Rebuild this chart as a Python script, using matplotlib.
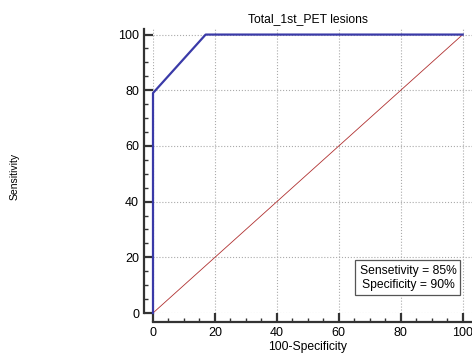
"""ROC curve for Total_1st_PET lesions."""

import matplotlib

matplotlib.use("Agg")
import matplotlib.pyplot as plt
from matplotlib.ticker import MultipleLocator

plt.rcParams["font.family"] = ["Liberation Sans", "DejaVu Sans"]

# ROC points (100-specificity, sensitivity)
FPR = [0, 0, 17, 100]
TPR = [0, 79, 100, 100]
CHANCE_X = [0, 100]
CHANCE_Y = [0, 100]
TITLE = "Total_1st_PET lesions"
SUMMARY = "Sensetivity = 85%\nSpecificity = 90%"

XMAX = 103
fig = plt.figure(figsize=(4.72, 3.56), dpi=100)
ax = fig.add_axes([153 / 472, 1 - 313 / 356, 319 / 472, (313 - 29) / 356])

ax.plot(CHANCE_X, CHANCE_Y, color="#b03030", lw=0.6, zorder=2)
ax.plot(FPR, TPR, color="#3a3aa8", lw=1.6, zorder=3, clip_on=False)

ax.set_xlim(0, XMAX)
ax.set_ylim(0, 102)
ax.xaxis.set_major_locator(MultipleLocator(20))
ax.xaxis.set_minor_locator(MultipleLocator(5))
ax.yaxis.set_major_locator(MultipleLocator(20))
ax.yaxis.set_minor_locator(MultipleLocator(5))

for side in ("top", "right"):
    ax.spines[side].set_visible(False)
for side in ("left", "bottom"):
    ax.spines[side].set_linewidth(1.6)
    ax.spines[side].set_color("#333333")
    ax.spines[side].set_position(("outward", 6.5))

ax.tick_params(which="major", direction="in", length=6.5, width=1.6, color="#333333",
               labelsize=9, pad=3.5)
ax.tick_params(which="minor", direction="in", length=3, width=1.0, color="#333333")

ax.grid(True, which="major", ls=":", color="#aaaaaa", lw=0.8)
ax.set_axisbelow(True)

ax.set_title(TITLE, fontsize=8.7, pad=5, x=50 / XMAX)
ax.set_xlabel("100-Specificity", fontsize=8.7, labelpad=3)
ax.xaxis.set_label_coords(50 / XMAX, -0.1)
fig.text(15 / 472, 1 - 176 / 356, "Sensitivity", rotation=90, fontsize=7.5,
         ha="center", va="center")

ax.text(82.3, 12.6, SUMMARY, fontsize=8.7, ha="center", va="center", linespacing=1.3,
        bbox=dict(boxstyle="square,pad=0.35", fc="white", ec="#555555", lw=0.9))

fig.savefig("out.png", dpi=100)
